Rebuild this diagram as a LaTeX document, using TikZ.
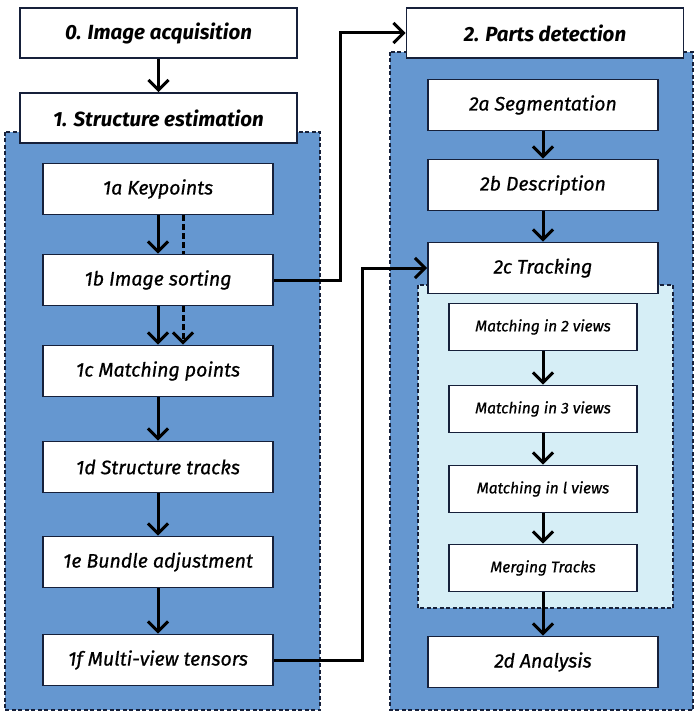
\documentclass[tikz,border=0pt]{standalone}
\usepackage{fontspec}
\setmainfont{Fira Sans}
\newfontfamily\medfont{Fira Sans}[ItalicFeatures={FakeBold=0.7}]
\usetikzlibrary{arrows.meta}
\usetikzlibrary{positioning}
\definecolor{regblue}{RGB}{101,151,208}
\definecolor{reglight}{RGB}{214,238,246}
\definecolor{edge}{RGB}{22,32,58}

\begin{document}
\begin{tikzpicture}[x=1pt,y=-1pt,
  every node/.style={draw=edge,line width=1.9pt,fill=white,inner sep=0pt,font=\fontsize{19.5}{22}\medfont\itshape},
  box/.style={minimum width=230pt,minimum height=51pt},
  head/.style={minimum width=277pt,minimum height=50pt,font=\fontsize{20.5}{23}\selectfont\bfseries\itshape},
  sub/.style={minimum width=188pt,minimum height=47pt,font=\fontsize{15.5}{18}\medfont\itshape},
  region/.style={fill=regblue,draw=edge,line width=1.2pt,dash pattern=on 4pt off 2.5pt},
  inner/.style={fill=reglight,draw=edge,line width=1.2pt,dash pattern=on 4pt off 2.5pt},
  flow/.style={draw=black,line width=3pt,-{Straight Barb[length=10pt,width=20pt]}},
  dflow/.style={flow,dash pattern=on 6pt off 3pt}]
  \useasboundingbox (0,0) rectangle (696,714);
  \draw[region](5,132) rectangle (320,710);
  \draw[region](390,52) rectangle (693,710);
  \draw[inner](418,285) rectangle (673,608);

  \node[head] (0) at (158.5,33) {0. Image acquisition};
  \node[head] (1) at (158.5,118) {1. Structure estimation};
  \node[head] (2) at (545,33) {2. Parts detection};

  \node[box] (1a) at (158,189) {1a Keypoints};
  \node[box] (1b) at (158,280) {1b Image sorting};
  \node[box] (1c) at (158,371) {1c Matching points};
  \node[box] (1d) at (158,467) {1d Structure tracks};
  \node[box] (1e) at (158,562) {1e Bundle adjustment};
  \node[box] (1f) at (158,660) {1f Multi-view tensors};

  \node[box] (2a) at (543,105) {2a Segmentation};
  \node[box] (2b) at (543,185) {2b Description};
  \node[box] (2c) at (543,268) {2c Tracking};
  \node[sub] (m2) at (543,327) {Matching in 2 views};
  \node[sub] (m3) at (543,409) {Matching in 3 views};
  \node[sub] (ml) at (543,489) {Matching in l views};
  \node[sub] (mt) at (543,568) {Merging Tracks};
  \node[box] (2d) at (543,662) {2d Analysis};

  \draw[flow](0)--(1);
  \draw[flow](1a)--(1b);
  \draw[flow](1b)--(1c);
  \draw[flow](1c)--(1d);
  \draw[flow](1d)--(1e);
  \draw[flow](1e)--(1f);
  \draw[draw=black,line width=3pt,dash pattern=on 6pt off 3pt]([xshift=25pt]1a.south)--([xshift=25pt]1b.north);
  \draw[dflow]([xshift=25pt]1b.south)--([xshift=25pt]1c.north);
  \draw[flow](2a)--(2b);
  \draw[flow](2b)--(2c);
  \draw[flow](m2)--(m3);
  \draw[flow](m3)--(ml);
  \draw[flow](ml)--(mt);
  \draw[flow](mt)--(2d);
  \draw[flow](1b.east)--++(67,0)|-(2.west);
  \draw[flow](1f.east)--++(89,0)|-(2c.west);
\end{tikzpicture}
\end{document}
